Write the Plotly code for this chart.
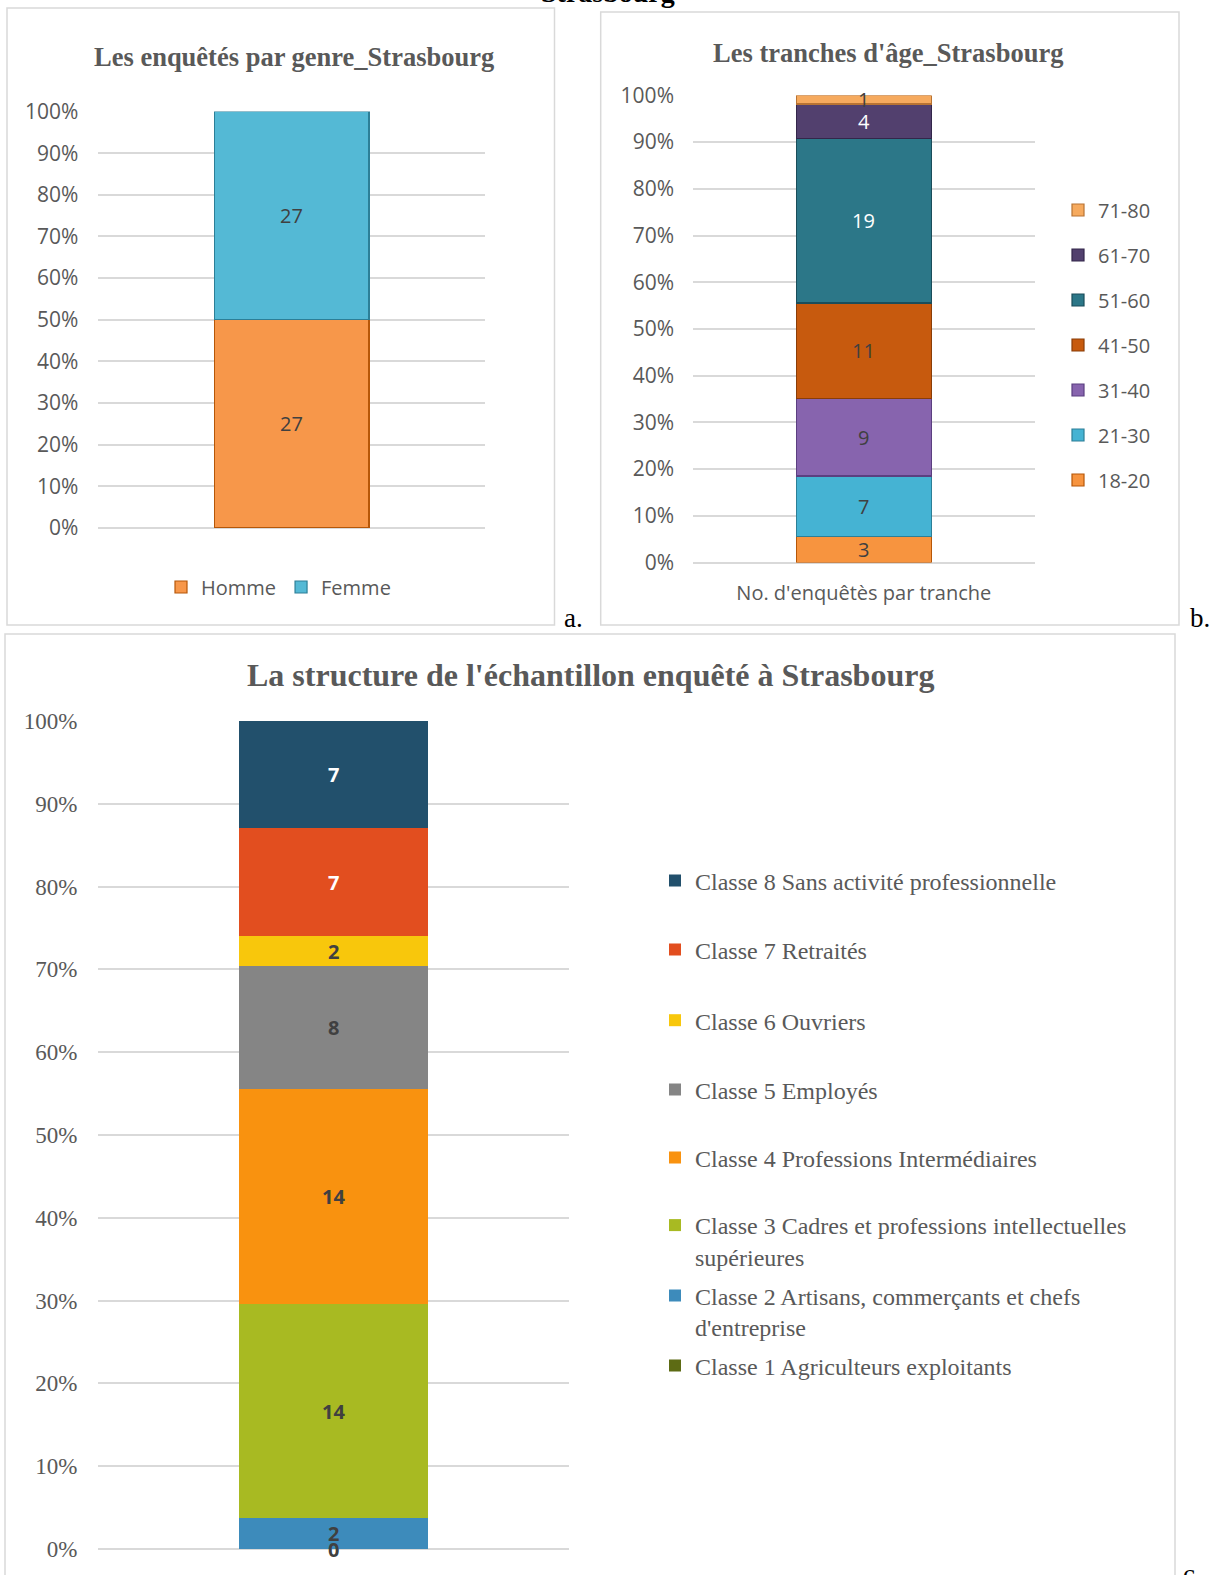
import plotly.graph_objects as go

# ---- data -------------------------------------------------------------
genre_labels = ["Homme", "Femme"]
genre_counts = [27, 27]

age_labels = ["18-20", "21-30", "31-40", "41-50", "51-60", "61-70", "71-80"]
age_counts = [3, 7, 9, 11, 19, 4, 1]

classe_labels = [
    "Classe 1 Agriculteurs exploitants",
    "Classe 2 Artisans, commerçants et chefs<br>d'entreprise",
    "Classe 3 Cadres et professions intellectuelles<br>supérieures",
    "Classe 4 Professions Intermédiaires",
    "Classe 5 Employés",
    "Classe 6 Ouvriers",
    "Classe 7 Retraités",
    "Classe 8 Sans activité professionnelle",
]
classe_counts = [0, 2, 14, 14, 8, 2, 7, 7]

cat_a = "Genre"
cat_b = "No. d'enquêtès par tranche"
cat_c = "Échantillon"

# ---- styles -----------------------------------------------------------
genre_fill = ["#F7974A", "#54B9D5"]
genre_edge = ["#B65708", "#2C7F97"]
age_fill = ["#F7943F", "#45B3D3", "#8764AE", "#C75A0E", "#2C7788", "#52406E", "#F6AA5E"]
age_edge = ["#B65708", "#2C7F97", "#5B3F80", "#8A3D07", "#1A4D5A", "#33264A", "#B87333"]
age_text = ["#404040", "#404040", "#404040", "#404040", "#FFFFFF", "#FFFFFF", "#404040"]
classe_fill = ["#5D6B14", "#3D8BBB", "#A8BA22", "#F9920F", "#858585", "#F8C70C", "#E24E1F", "#22506C"]
classe_text = ["#404040", "#404040", "#404040", "#404040", "#404040", "#404040", "#FFFFFF", "#FFFFFF"]

SANS = "Open Sans"
SERIF = "Liberation Serif"
GREY = "#595959"
GRID = "#D9D9D9"

W, H = 1211, 1575


def px(x):
    return x / W


def py(y):
    return 1 - y / H


def midpoints(counts):
    total = sum(counts)
    out, acc = [], 0.0
    for c in counts:
        p = c / total * 100
        out.append(acc + p / 2)
        acc += p
    return out


fig = go.Figure()

# ---- panel a: gender -------------------------------------------------
for lab, val, f, e in zip(genre_labels, genre_counts, genre_fill, genre_edge):
    fig.add_trace(go.Bar(
        x=[cat_a], y=[val], name=lab, xaxis="x", yaxis="y", width=0.4,
        marker=dict(color=f, line=dict(color=e, width=1.2)),
        legend="legend", textposition="none", hoverinfo="skip",
    ))

# ---- panel b: age groups ---------------------------------------------
for i, (lab, val, f, e) in enumerate(zip(age_labels, age_counts, age_fill, age_edge)):
    fig.add_trace(go.Bar(
        x=[cat_b], y=[val], name=lab, xaxis="x2", yaxis="y2", width=0.396,
        marker=dict(color=f, line=dict(color=e, width=1.2)),
        legend=f"legend{2 + i}", textposition="none", hoverinfo="skip",
    ))

# ---- panel c: socio-professional classes -----------------------------
for i, (lab, val, f) in enumerate(zip(classe_labels, classe_counts, classe_fill)):
    fig.add_trace(go.Bar(
        x=[cat_c], y=[val], name=lab, xaxis="x3", yaxis="y3", width=0.402,
        marker=dict(color=f, line=dict(width=0)),
        legend=f"legend{9 + i}", textposition="none", hoverinfo="skip",
    ))

annotations = []

# value labels inside the stacked segments
for val, mid in zip(genre_counts, midpoints(genre_counts)):
    annotations.append(dict(x=cat_a, y=mid, xref="x", yref="y", text=str(val),
                            xanchor="center", yanchor="middle", showarrow=False,
                            font=dict(family=SANS, size=20, color="#404040")))
for val, mid, col in zip(age_counts, midpoints(age_counts), age_text):
    annotations.append(dict(x=cat_b, y=mid, xref="x2", yref="y2", text=str(val),
                            xanchor="center", yanchor="middle", showarrow=False,
                            font=dict(family=SANS, size=20, color=col)))
for val, mid, col in zip(classe_counts, midpoints(classe_counts), classe_text):
    annotations.append(dict(x=cat_c, y=mid, xref="x3", yref="y3", text=f"<b>{val}</b>",
                            xanchor="center", yanchor="middle", showarrow=False,
                            font=dict(family=SANS, size=20, color=col)))


def paper_text(x, y, text, size, color, **kw):
    d = dict(x=px(x), y=py(y), xref="paper", yref="paper", xanchor="center",
             yanchor="middle", showarrow=False, text=text,
             font=dict(family=SERIF, size=size, color=color))
    d.update(kw)
    return d


# titles and panel letters
annotations += [
    paper_text(294, 57, "<b>Les enquêtés par genre_Strasbourg</b>", 26.5, GREY),
    paper_text(888, 53, "<b>Les tranches d'âge_Strasbourg</b>", 26.5, GREY),
    paper_text(590, 675, "<b>La structure de l'échantillon enquêté à Strasbourg</b>", 32, GREY),
    paper_text(608, 10, "<b>Strasbourg</b>", 28, "#000000", yanchor="bottom"),
    paper_text(573, 618, "a.", 27, "#000000"),
    paper_text(1200, 618, "b.", 27, "#000000"),
    paper_text(1192, 1574, "c.", 27, "#000000"),
]

# panel frames
shapes = [
    dict(type="rect", xref="paper", yref="paper", x0=px(7), x1=px(554.5), y0=py(625), y1=py(8),
         line=dict(color=GRID, width=1.5), layer="below"),
    dict(type="rect", xref="paper", yref="paper", x0=px(600.7), x1=px(1179), y0=py(625), y1=py(12),
         line=dict(color=GRID, width=1.5), layer="below"),
    dict(type="rect", xref="paper", yref="paper", x0=px(5), x1=px(1175), y0=py(1590), y1=py(634),
         line=dict(color=GRID, width=1.5), layer="below"),
]


def yaxis_style(domain, font, standoff):
    return dict(domain=domain, range=[0, 100], tickmode="linear", tick0=0, dtick=10,
                ticksuffix="%", showgrid=True, gridcolor=GRID, gridwidth=1.5,
                zeroline=True, zerolinecolor=GRID, zerolinewidth=1.5, showline=False,
                tickfont=font, ticklabelstandoff=standoff, fixedrange=True,
                automargin=False)


sans_tick = dict(family=SANS, size=21, color=GREY)
serif_tick = dict(family=SERIF, size=23, color=GREY)

layout = dict(
    width=W, height=H, margin=dict(l=0, r=0, t=0, b=0, pad=0, autoexpand=False),
    paper_bgcolor="white", plot_bgcolor="white",
    barmode="stack", barnorm="percent",
    xaxis=dict(domain=[px(98.4), px(485)], range=[-0.5, 0.5], showticklabels=False,
               showgrid=False, zeroline=False, anchor="y", automargin=False),
    yaxis=yaxis_style([py(528), py(111.5)], sans_tick, 19) | dict(anchor="x"),
    xaxis2=dict(domain=[px(693), px(1034.6)], range=[-0.5, 0.5], showgrid=False,
                zeroline=False, anchor="y2", tickfont=dict(family=SANS, size=20, color=GREY),
                ticklabelstandoff=16, automargin=False),
    yaxis2=yaxis_style([py(562.5), py(95.4)], sans_tick, 18) | dict(anchor="x2"),
    xaxis3=dict(domain=[px(98.4), px(568.5)], range=[-0.5, 0.5], showticklabels=False,
                showgrid=False, zeroline=False, anchor="y3", automargin=False),
    yaxis3=yaxis_style([py(1549), py(721)], serif_tick, 20) | dict(anchor="x3"),
    annotations=annotations,
    shapes=shapes,
    showlegend=True,
)

# legend for panel a
layout["legend"] = dict(orientation="h", x=px(161), y=py(587), xanchor="left", yanchor="middle",
                        font=dict(family=SANS, size=20, color=GREY), bgcolor="rgba(0,0,0,0)",
                        traceorder="normal")

# legends for panel b, one per age group, top entry = oldest group
for i in range(len(age_labels)):
    row = len(age_labels) - 1 - i
    layout[f"legend{2 + i}"] = dict(x=px(1058), y=py(210 + 45 * row), xanchor="left", yanchor="middle",
                                    font=dict(family=SANS, size=20, color=GREY),
                                    bgcolor="rgba(0,0,0,0)")

# legends for panel c, one per class, top entry = Classe 8
classe_rows = [1366, 1311.5, 1241, 1158, 1090, 1020.6, 950, 881]
for i in range(len(classe_labels)):
    layout[f"legend{9 + i}"] = dict(x=px(655), y=py(classe_rows[i]), xanchor="left", yanchor="middle",
                                    valign="top",
                                    font=dict(family=SERIF, size=24, color=GREY),
                                    bgcolor="rgba(0,0,0,0)")

fig.update_layout(**layout)
fig.write_html("out.html")
